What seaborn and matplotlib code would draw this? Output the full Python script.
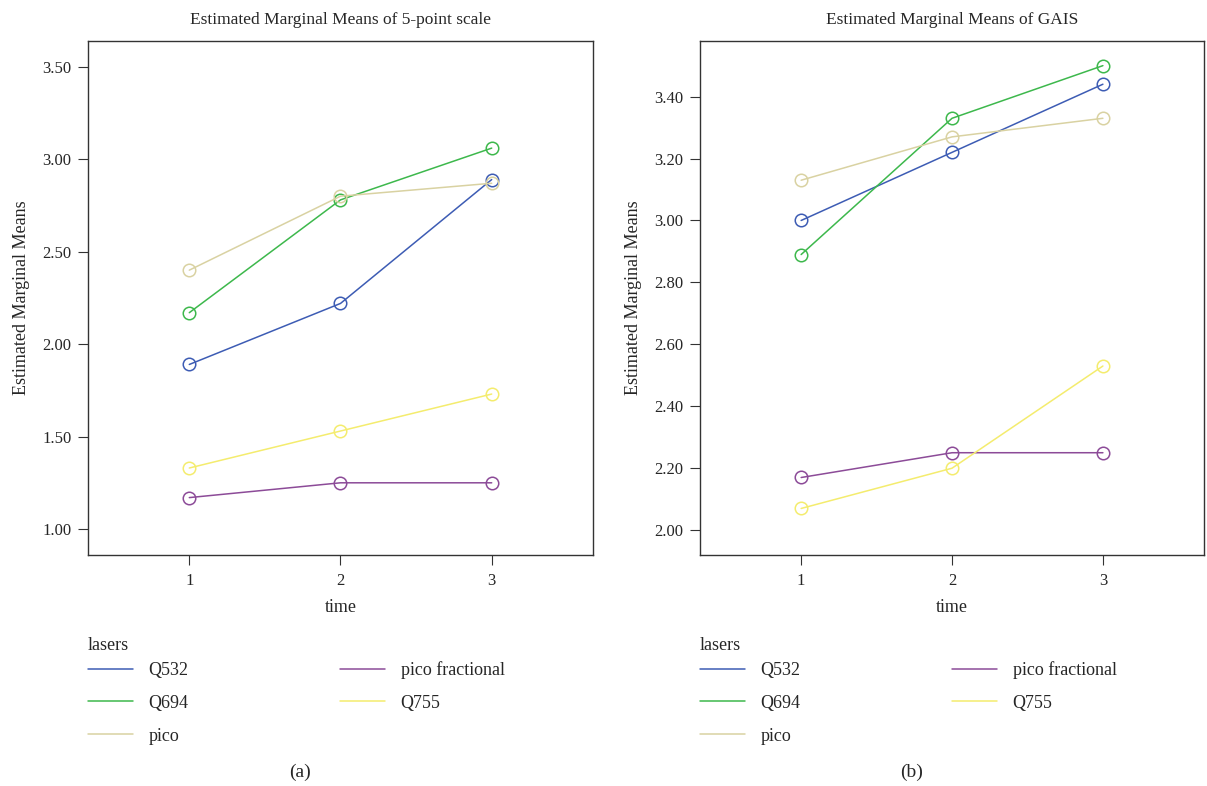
import pandas as pd
import numpy as np
import matplotlib.pyplot as plt
import seaborn as sns
from matplotlib.lines import Line2D
from matplotlib.ticker import FormatStrFormatter

sns.set_style("ticks")
plt.rcParams['font.family'] = ['Liberation Serif', 'DejaVu Serif']

# datos
time = [1, 2, 3]
lasers = ["Q532", "Q694", "pico", "pico fractional", "Q755"]
colores = ["#3D5CB4", "#3DB84C", "#D9D2A2", "#8C4B98", "#F4EC6E"]

escala5 = {
    "Q532": [1.89, 2.22, 2.89],
    "Q694": [2.17, 2.78, 3.06],
    "pico": [2.40, 2.80, 2.87],
    "pico fractional": [1.17, 1.25, 1.25],
    "Q755": [1.33, 1.53, 1.73],
}
gais = {
    "Q532": [3.00, 3.22, 3.44],
    "Q694": [2.89, 3.33, 3.50],
    "pico": [3.13, 3.27, 3.33],
    "pico fractional": [2.17, 2.25, 2.25],
    "Q755": [2.07, 2.20, 2.53],
}


def a_tabla(d):
    filas = []
    for l in lasers:
        for t, v in zip(time, d[l]):
            filas.append({"time": t, "mean": v, "lasers": l})
    return pd.DataFrame(filas)


fig = plt.figure(figsize=(12.07, 7.86), dpi=100)
ax1 = fig.add_axes([0.0729, 0.294, 0.4184, 0.654])
ax2 = fig.add_axes([0.580, 0.294, 0.4175, 0.654])

paleta = dict(zip(lasers, colores))

paneles = [
    (ax1, escala5, "Estimated Marginal Means of 5-point scale", (0.86, 3.64), np.arange(1.0, 3.51, 0.5), "(a)", 88, 300),
    (ax2, gais, "Estimated Marginal Means of GAIS", (1.92, 3.58), np.arange(2.0, 3.41, 0.2), "(b)", 700, 912),
]

W, H = 1207, 786

for ax, datos, titulo, ylim, yt, letra, xleg, xcap in paneles:
    df = a_tabla(datos)
    sns.lineplot(data=df, x="time", y="mean", hue="lasers", hue_order=lasers,
                 palette=paleta, marker="o", markersize=9, markerfacecolor="none",
                 markeredgewidth=1.1, linewidth=1.1, ax=ax, legend=False)
    for l in ax.get_lines():
        l.set_markeredgecolor(l.get_color())
    ax.set_xlim(0.33, 3.67)
    ax.set_ylim(*ylim)
    ax.set_xticks(time)
    ax.set_yticks(yt)
    ax.yaxis.set_major_formatter(FormatStrFormatter("%.2f"))
    ax.set_title(titulo, fontsize=12.5, pad=12)
    ax.set_xlabel("time", fontsize=13, labelpad=7)
    ax.set_ylabel("Estimated Marginal Means", fontsize=13, labelpad=9)
    ax.tick_params(axis="x", labelsize=12, length=7, pad=6, color="#333333")
    ax.tick_params(axis="y", labelsize=12, length=7, pad=5, color="#333333")
    for s in ax.spines.values():
        s.set_color("#333333")
        s.set_linewidth(1.0)

    # leyenda de cada panel
    fig.text(xleg / W, 1 - 645 / H, "lasers", ha="left", va="center", fontsize=13)
    handles = [Line2D([], [], color=c, linewidth=1.1) for c in colores]
    fig.legend(handles, lasers, loc="upper left", bbox_to_anchor=(xleg / W, 1 - 661 / H),
               ncol=2, frameon=False, fontsize=13,
               handlelength=2.5, handletextpad=0.85,
               columnspacing=8.4, labelspacing=0.88, borderpad=0, borderaxespad=0)
    fig.text(xcap / W, 1 - 772 / H, letra, ha="center", va="center", fontsize=14)

plt.savefig("out.png", dpi=100)
